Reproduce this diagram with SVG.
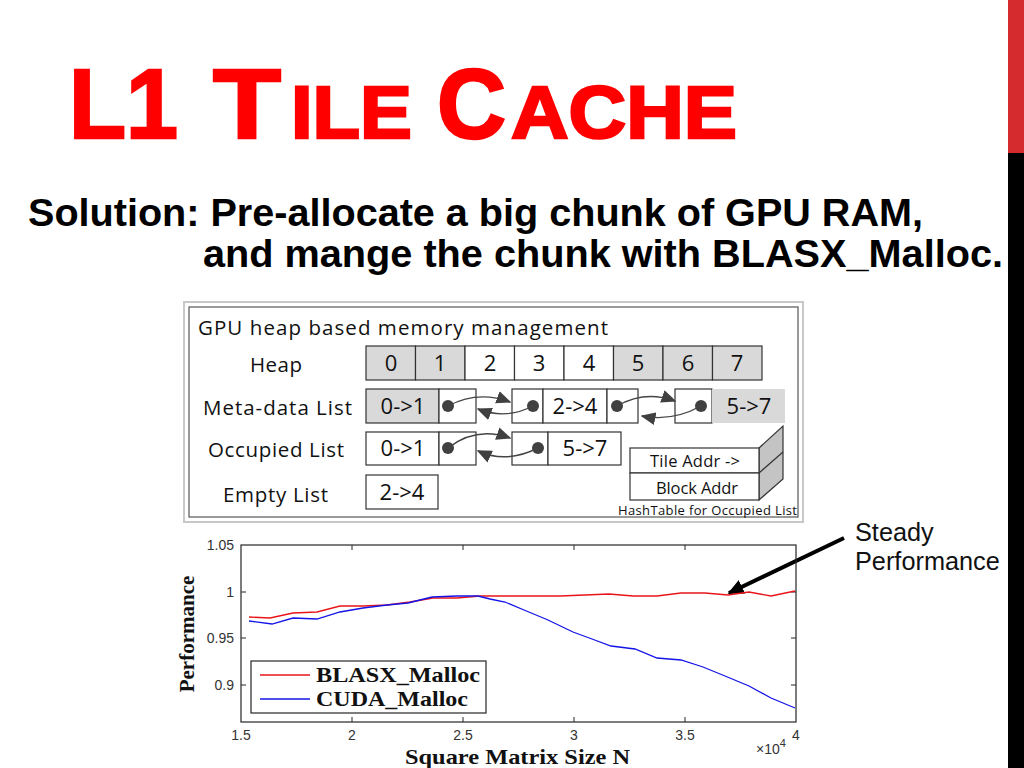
<svg xmlns="http://www.w3.org/2000/svg" width="1024" height="768" viewBox="0 0 1024 768">
<defs>
<style>
.ui{font-family:"Open Sans","Noto Sans",sans-serif;fill:#111}
.cell{stroke:#333;stroke-width:1.2;fill:#fff}
.g{fill:#d9d9d9}
.ptr{fill:none;stroke:#444;stroke-width:1.4}
.dot{fill:#404040}
.tick{font-family:"Liberation Sans",Arial,sans-serif;font-size:14px;fill:#333}
.ser{font-family:"Liberation Serif","Times New Roman",serif;font-weight:bold;fill:#111}
.axis{fill:none;stroke:#262626;stroke-width:1.2}
</style>
<marker id="ah" viewBox="0 0 10 10" refX="9" refY="5" markerWidth="15" markerHeight="13" orient="auto" markerUnits="userSpaceOnUse" preserveAspectRatio="none">
<path d="M0,0 L10,5 L0,10 z" fill="#404040"/>
</marker>
<marker id="ah2" viewBox="0 0 10 10" refX="9" refY="5" markerWidth="16" markerHeight="15" orient="auto" markerUnits="userSpaceOnUse" preserveAspectRatio="none">
<path d="M0,0 L10,5 L0,10 z" fill="#000"/>
</marker>
</defs>
<rect width="1024" height="768" fill="#fff"/>
<rect x="1008" y="0" width="16" height="153" fill="#d52b2e"/>
<rect x="1008" y="153" width="16" height="615" fill="#000"/>

<g id="title" font-family="'Liberation Sans',Arial,sans-serif" font-weight="bold" fill="#ff0000" stroke="#ff0000" stroke-width="2.5">
<text x="69" y="138" font-size="98" textLength="109" lengthAdjust="spacingAndGlyphs">L1</text>
<text x="213" y="138" font-size="98" textLength="68" lengthAdjust="spacingAndGlyphs">T</text>
<text x="291" y="138" font-size="75" textLength="121" lengthAdjust="spacingAndGlyphs">ILE</text>
<text x="437" y="138" font-size="98" textLength="69" lengthAdjust="spacingAndGlyphs">C</text>
<text x="511" y="138" font-size="75" textLength="226" lengthAdjust="spacingAndGlyphs">ACHE</text>
</g>

<g id="subtitle" font-family="'Liberation Sans',Arial,sans-serif" font-weight="bold" fill="#000" font-size="38">
<text x="28" y="226" textLength="895" lengthAdjust="spacingAndGlyphs">Solution: Pre-allocate a big chunk of GPU RAM,</text>
<text x="203" y="267" textLength="800" lengthAdjust="spacingAndGlyphs">and mange the chunk with BLASX_Malloc.</text>
</g>

<g id="panel">
<rect x="184" y="302" width="619" height="220" fill="#fff" stroke="#c8c8c8" stroke-width="2"/>
<rect x="189" y="307" width="609" height="210" fill="#fff" stroke="#555" stroke-width="1.2"/>
<text class="ui" x="198" y="335" font-size="20.5" textLength="410">GPU heap based memory management</text>
<text class="ui" x="250" y="372" font-size="20.5" textLength="52">Heap</text>
<text class="ui" x="203" y="415" font-size="20.5" textLength="149">Meta-data List</text>
<text class="ui" x="208" y="457" font-size="20.5" textLength="136">Occupied List</text>
<text class="ui" x="223" y="502" font-size="20.5" textLength="105">Empty List</text>
</g>

<g id="heap">
<rect class="cell g" x="366" y="346" width="49.5" height="34"/>
<rect class="cell g" x="415.5" y="346" width="49.5" height="34"/>
<rect class="cell" x="465" y="346" width="49.5" height="34"/>
<rect class="cell" x="514.5" y="346" width="49.5" height="34"/>
<rect class="cell" x="564" y="346" width="49.5" height="34"/>
<rect class="cell g" x="613.5" y="346" width="49.5" height="34"/>
<rect class="cell g" x="663" y="346" width="49.5" height="34"/>
<rect class="cell g" x="712.5" y="346" width="49.5" height="34"/>
<g class="ui" font-size="22" text-anchor="middle">
<text x="391" y="371">0</text><text x="440" y="371">1</text><text x="490" y="371">2</text><text x="539" y="371">3</text>
<text x="589" y="371">4</text><text x="638" y="371">5</text><text x="688" y="371">6</text><text x="737" y="371">7</text>
</g>
</g>

<g id="meta-node-1">
<rect class="cell g" x="366" y="389" width="73" height="34"/>
<rect class="cell" x="439" y="389" width="37" height="34"/>
<text class="ui" x="403" y="414" font-size="22" text-anchor="middle">0-&gt;1</text>
<circle class="dot" cx="448" cy="406" r="6"/>
</g>
<g id="meta-node-2">
<rect class="cell" x="512" y="389" width="31" height="34"/>
<rect class="cell" x="543" y="389" width="64" height="34"/>
<rect class="cell" x="607" y="389" width="31" height="34"/>
<text class="ui" x="575" y="414" font-size="22" text-anchor="middle">2-&gt;4</text>
<circle class="dot" cx="533" cy="406" r="6"/>
<circle class="dot" cx="617" cy="406" r="6"/>
</g>
<g id="meta-node-3">
<rect class="cell" x="675" y="389" width="37" height="34"/>
<rect class="g" x="712" y="389" width="73" height="34"/>
<text class="ui" x="749" y="414" font-size="22" text-anchor="middle">5-&gt;7</text>
<circle class="dot" cx="701" cy="406" r="6"/>
</g>

<g id="occ-node-1">
<rect class="cell" x="366" y="432" width="73" height="33"/>
<rect class="cell" x="439" y="432" width="37" height="33"/>
<text class="ui" x="403" y="456" font-size="22" text-anchor="middle">0-&gt;1</text>
<circle class="dot" cx="448" cy="448" r="6"/>
</g>
<g id="occ-node-2">
<rect class="cell" x="512" y="432" width="36" height="33"/>
<rect class="cell" x="548" y="432" width="73" height="33"/>
<text class="ui" x="585" y="456" font-size="22" text-anchor="middle">5-&gt;7</text>
<circle class="dot" cx="538" cy="448" r="6"/>
</g>

<g id="empty-node">
<rect class="cell" x="366" y="475" width="72" height="34"/>
<text class="ui" x="402" y="500" font-size="22" text-anchor="middle">2-&gt;4</text>
</g>

<g id="hashtable">
<path d="M759,448 L783,426 L783,479 L759,500 Z" fill="#c4c4c4" stroke="#333" stroke-width="1.2"/>
<line x1="759" y1="473" x2="783" y2="452" stroke="#333" stroke-width="1.2"/>
<rect class="cell" x="630" y="448" width="129" height="25"/>
<rect class="cell" x="630" y="473" width="129" height="27"/>
<text class="ui" x="650" y="467" font-size="16.5" textLength="90">Tile Addr -&gt;</text>
<text class="ui" x="656" y="494" font-size="16.5" textLength="82">Block Addr</text>
<text class="ui" x="618" y="515" font-size="13" textLength="179">HashTable for Occupied List</text>
</g>

<g id="connectors">
<path class="ptr" d="M448,406 Q478,390 510,402" marker-end="url(#ah)"/>
<path class="ptr" d="M533,406 Q506,420 478,409" marker-end="url(#ah)"/>
<path class="ptr" d="M617,406 Q645,390 675,401" marker-end="url(#ah)"/>
<path class="ptr" d="M701,406 Q672,422 642,416" marker-end="url(#ah)"/>
<path class="ptr" d="M448,448 Q476,426 510,438" marker-end="url(#ah)"/>
<path class="ptr" d="M538,448 Q506,464 478,451" marker-end="url(#ah)"/>
<line x1="844" y1="538" x2="729" y2="593" stroke="#000" stroke-width="4" marker-end="url(#ah2)"/>
</g>

<g id="chart">
<rect class="axis" x="241" y="545" width="555" height="177"/>
<g stroke="#262626" stroke-width="1">
<path d="M352,722v-5M463,722v-5M574,722v-5M685,722v-5M352,545v5M463,545v5M574,545v5M685,545v5"/>
<path d="M241,592h5M241,638h5M241,685h5M796,592h-5M796,638h-5M796,685h-5"/>
</g>
<g class="tick" text-anchor="end">
<text x="234" y="550">1.05</text><text x="234" y="597">1</text><text x="234" y="643">0.95</text><text x="234" y="690">0.9</text>
</g>
<g class="tick" text-anchor="middle">
<text x="241" y="740">1.5</text><text x="352" y="740">2</text><text x="463" y="740">2.5</text><text x="574" y="740">3</text><text x="685" y="740">3.5</text><text x="796" y="740">4</text>
</g>
<text class="tick" x="756" y="754">×10<tspan font-size="11" dy="-7">4</tspan></text>
<polyline fill="none" stroke="#e8141a" stroke-width="1.3" points="249,617 270,618 293,613 317,612 340,606 363,606 387,605 410,602 433,598 457,598 480,596 500,596 530,596 560,596 585,595 609,594 633,596 657,596 681,593 705,593 728,595 749,592 771,596 795,591"/>
<polyline fill="none" stroke="#1414e6" stroke-width="1.3" points="249,621 272,624 293,618 317,619 340,612 363,608 387,605 408,603 432,597 457,596 478,596 490,599 505,602 524,610 548,620 573,632 592,639 611,646 635,649 657,658 681,660 703,667 725,676 749,686 771,698 795,708"/>
<rect x="251" y="661" width="235" height="52" fill="#fff" stroke="#262626" stroke-width="1.2"/>
<line x1="260" y1="675" x2="310" y2="675" stroke="#e8141a" stroke-width="1.3"/>
<line x1="260" y1="699" x2="310" y2="699" stroke="#1414e6" stroke-width="1.3"/>
<text class="ser" x="316" y="682" font-size="21.5" textLength="164" lengthAdjust="spacingAndGlyphs">BLASX_Malloc</text>
<text class="ser" x="316" y="706" font-size="21.5" textLength="152" lengthAdjust="spacingAndGlyphs">CUDA_Malloc</text>
<text class="ser" x="405" y="764" font-size="22" textLength="225" lengthAdjust="spacingAndGlyphs">Square Matrix Size N</text>
<text class="ser" transform="translate(194,634) rotate(-90)" font-size="21" text-anchor="middle">Performance</text>
</g>

<g id="note" font-family="'Liberation Sans',Arial,sans-serif" font-size="25.3" fill="#111">
<text x="855" y="541">Steady</text>
<text x="855" y="570">Performance</text>
</g>
</svg>
